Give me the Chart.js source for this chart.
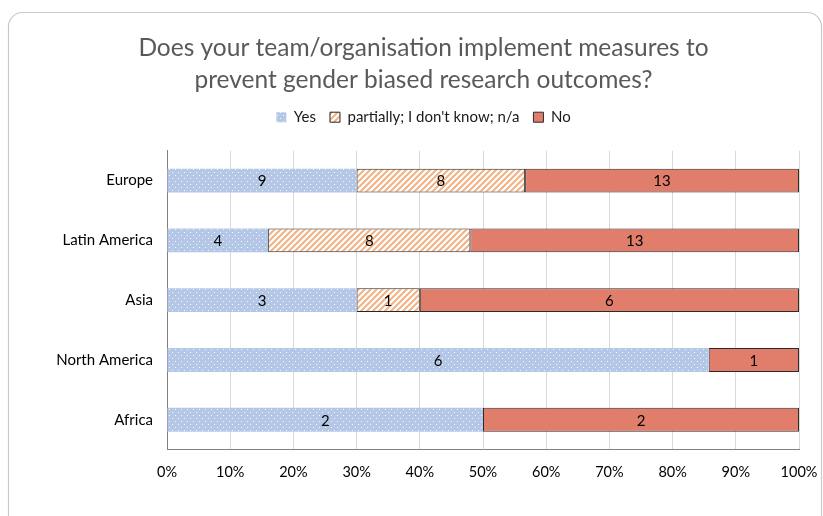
<!DOCTYPE html>
<html>
<head>
<meta charset="utf-8">
<script src="https://cdn.jsdelivr.net/npm/chart.js@4"></script>
<style>
  html, body { margin: 0; padding: 0; background: #fff; }
  #wrap { width: 823px; height: 516px; position: relative; }
</style>
</head>
<body>
<div id="wrap"><canvas id="chart" width="823" height="516"></canvas></div>
<script>
// === Daten ===
const regions = ["Europe", "Latin America", "Asia", "North America", "Africa"];
const yesCounts = [9, 4, 3, 6, 2];
const partialCounts = [8, 8, 1, 0, 0];
const noCounts = [13, 13, 6, 1, 2];
const seriesNames = ["Yes", "partially; I don't know; n/a", "No"];
const tickLabels = ["0%", "10%", "20%", "30%", "40%", "50%", "60%", "70%", "80%", "90%", "100%"];

const FONT = "Lato, 'Open Sans', sans-serif";

// === Muster ===
function dotPattern() {
  const c = document.createElement("canvas");
  c.width = 6; c.height = 6;
  const g = c.getContext("2d");
  g.fillStyle = "#b4c7e7";
  g.fillRect(0, 0, 6, 6);
  g.fillStyle = "rgba(255,255,255,0.85)";
  g.fillRect(1, 1, 1, 1);
  g.fillRect(4, 4, 1, 1);
  return g.createPattern(c, "repeat");
}

function hatchPattern() {
  const c = document.createElement("canvas");
  c.width = 6; c.height = 6;
  const g = c.getContext("2d");
  g.fillStyle = "#ffffff";
  g.fillRect(0, 0, 6, 6);
  g.strokeStyle = "#f4b183";
  g.lineWidth = 2;
  g.beginPath();
  g.moveTo(-1, 7); g.lineTo(7, -1);
  g.moveTo(-4, 4); g.lineTo(4, -4);
  g.moveTo(2, 10); g.lineTo(10, 2);
  g.stroke();
  return g.createPattern(c, "repeat");
}

// Prozent pro Region
const totals = regions.map((_, i) => yesCounts[i] + partialCounts[i] + noCounts[i]);
const pct = (arr) => arr.map((v, i) => (v / totals[i]) * 100);
const rawCounts = [yesCounts, partialCounts, noCounts];

// === Plugins ===
const framePlugin = {
  id: "frame",
  beforeDraw(chart) {
    const ctx = chart.ctx;
    ctx.save();
    ctx.strokeStyle = "#c9c9c9";
    ctx.lineWidth = 1.2;
    const x = 8.5, y = 12.5, w = 813, h = 520, r = 14;
    ctx.beginPath();
    ctx.moveTo(x + r, y);
    ctx.lineTo(x + w - r, y);
    ctx.arcTo(x + w, y, x + w, y + r, r);
    ctx.lineTo(x + w, y + h);
    ctx.moveTo(x, y + h);
    ctx.lineTo(x, y + r);
    ctx.arcTo(x, y, x + r, y, r);
    ctx.stroke();
    ctx.restore();
  },
};

// Abstand zwischen Legende und Plotfläche
const legendGap = {
  id: "legendGap",
  beforeLayout(chart) {
    const lg = chart.legend;
    if (!lg || lg._gapPatched) return;
    const fit = lg.fit;
    lg.fit = function () {
      fit.call(this);
      this.height += 16;
    };
    lg._gapPatched = true;
  },
};

const valueLabels = {
  id: "valueLabels",
  afterDatasetsDraw(chart) {
    const ctx = chart.ctx;
    ctx.save();
    ctx.font = "15px " + FONT;
    ctx.fillStyle = "#000";
    ctx.textAlign = "center";
    ctx.textBaseline = "middle";
    chart.data.datasets.forEach((ds, di) => {
      chart.getDatasetMeta(di).data.forEach((bar, i) => {
        const v = rawCounts[di][i];
        if (!v) return;
        const cx = (bar.x + bar.base) / 2;
        ctx.fillText(String(v), cx, bar.y + 1);
      });
    });
    ctx.restore();
  },
};

// === Chart ===
new Chart(document.getElementById("chart"), {
  type: "bar",
  data: {
    labels: regions,
    datasets: [
      {
        label: seriesNames[0],
        data: pct(yesCounts),
        backgroundColor: dotPattern(),
        borderWidth: 0,
      },
      {
        label: seriesNames[1],
        data: pct(partialCounts),
        backgroundColor: hatchPattern(),
        borderColor: "#262626",
        borderWidth: 1,
        borderSkipped: false,
      },
      {
        label: seriesNames[2],
        data: pct(noCounts),
        backgroundColor: "#e07d6b",
        borderColor: "#2b2b2b",
        borderWidth: 1,
        borderSkipped: false,
      },
    ],
  },
  plugins: [framePlugin, legendGap, valueLabels],
  options: {
    indexAxis: "y",
    responsive: false,
    animation: false,
    categoryPercentage: 0.4,
    barPercentage: 1,
    layout: { padding: { top: 32, right: 24, bottom: 21, left: 48 } },
    scales: {
      x: {
        stacked: true,
        min: 0,
        max: 100,
        ticks: {
          stepSize: 10,
          color: "#000",
          font: { family: FONT, size: 14.5 },
          padding: 14,
          callback: (v, i) => tickLabels[i],
        },
        grid: { color: "#d9d9d9", drawTicks: false },
        border: { color: "#7f7f7f", width: 1 },
        afterFit(scale) {
          scale.paddingLeft = 0;
          scale.paddingRight = 0;
        },
      },
      y: {
        stacked: true,
        ticks: {
          color: "#000",
          font: { family: FONT, size: 15 },
          padding: 14,
        },
        grid: { display: false, drawTicks: false },
        border: { color: "#7f7f7f", width: 1 },
        afterFit(scale) { scale.width = 119; },
      },
    },
    plugins: {
      title: {
        display: true,
        text: [
          "Does your team/organisation implement measures to",
          "prevent gender biased research outcomes?",
        ],
        color: "#595959",
        font: { family: FONT, size: 24.5, weight: "normal", lineHeight: 1.3 },
        padding: { top: 0, bottom: 0 },
      },
      legend: {
        display: true,
        labels: {
          color: "#1a1a1a",
          font: { family: FONT, size: 15 },
          boxWidth: 10,
          boxHeight: 10,
          padding: 14,
        },
      },
      tooltip: { enabled: false },
    },
  },
});
</script>
</body>
</html>
